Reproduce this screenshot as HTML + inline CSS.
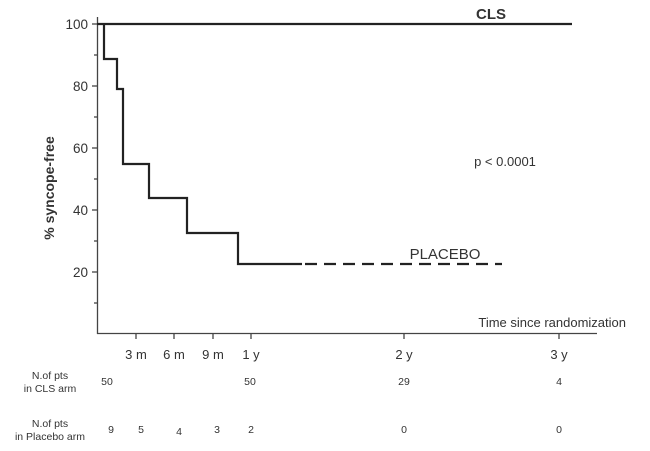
<!DOCTYPE html>
<html><head><style>body{margin:0;background:#fff}svg{display:block}</style></head>
<body>
<svg width="650" height="451" xmlns="http://www.w3.org/2000/svg" font-family="Liberation Sans, sans-serif" fill="#333">
<g stroke="#444" stroke-width="1.3" fill="none">
<line x1="97.5" y1="17" x2="97.5" y2="334"/>
<line x1="97" y1="333.5" x2="597" y2="333.5"/>
<line x1="92" y1="24" x2="97" y2="24"/><line x1="92" y1="86" x2="97" y2="86"/><line x1="92" y1="148" x2="97" y2="148"/><line x1="92" y1="210" x2="97" y2="210"/><line x1="92" y1="272" x2="97" y2="272"/>
<line x1="94" y1="55" x2="97" y2="55"/><line x1="94" y1="117" x2="97" y2="117"/><line x1="94" y1="179" x2="97" y2="179"/><line x1="94" y1="241" x2="97" y2="241"/><line x1="94" y1="303" x2="97" y2="303"/>
<line x1="136" y1="333" x2="136" y2="339"/><line x1="174" y1="333" x2="174" y2="339"/><line x1="213" y1="333" x2="213" y2="339"/><line x1="251" y1="333" x2="251" y2="339"/><line x1="404" y1="333" x2="404" y2="339"/><line x1="559" y1="333" x2="559" y2="339"/>
</g>
<g stroke="#222" stroke-width="2.2" fill="none">
<line x1="97" y1="24" x2="572" y2="24"/>
<polyline points="104,24 104,59 117,59 117,89 123,89 123,164 149,164 149,198 187,198 187,233 238,233 238,264 302,264"/>
<line x1="305" y1="264" x2="502" y2="264" stroke-dasharray="12,7"/>
</g>
<g font-size="13.5" text-anchor="end">
<text x="88" y="29">100</text><text x="88" y="91">80</text><text x="88" y="153">60</text><text x="88" y="215">40</text><text x="88" y="277">20</text>
</g>
<g font-size="13" text-anchor="middle">
<text x="136" y="359">3 m</text><text x="174" y="359">6 m</text><text x="213" y="359">9 m</text><text x="251" y="359">1 y</text><text x="404" y="359">2 y</text><text x="559" y="359">3 y</text>
</g>
<text x="54" y="188" font-size="14" font-weight="bold" text-anchor="middle" transform="rotate(-90 54 188)">% syncope-free</text>
<text x="491" y="19" font-size="15" font-weight="bold" text-anchor="middle">CLS</text>
<text x="505" y="166" font-size="13" text-anchor="middle">p &lt; 0.0001</text>
<text x="445" y="259" font-size="15" text-anchor="middle">PLACEBO</text>
<text x="626" y="327" font-size="13" text-anchor="end">Time since randomization</text>
<g font-size="10.5" text-anchor="middle">
<text x="50" y="379">N.of pts</text><text x="50" y="392">in CLS arm</text>
<text x="50" y="427">N.of pts</text><text x="50" y="440">in Placebo arm</text>
<text x="107" y="385">50</text><text x="250" y="385">50</text><text x="404" y="385">29</text><text x="559" y="385">4</text>
<text x="111" y="433">9</text><text x="141" y="433">5</text><text x="179" y="435">4</text><text x="217" y="433">3</text><text x="251" y="433">2</text><text x="404" y="433">0</text><text x="559" y="433">0</text>
</g>
</svg>
</body></html>
